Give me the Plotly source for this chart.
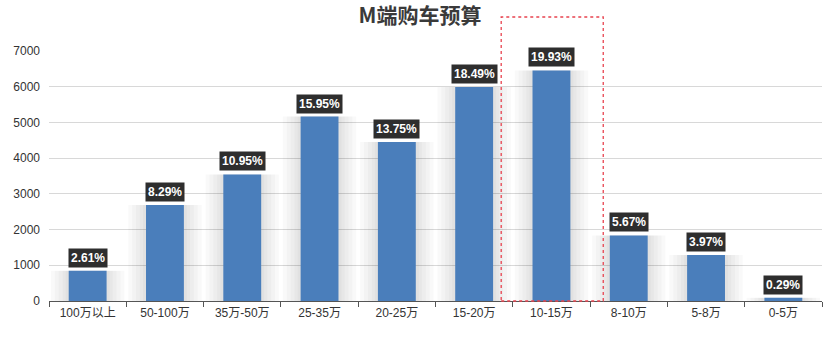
import plotly.graph_objects as go

categories = ["100万以上", "50-100万", "35万-50万", "25-35万", "20-25万",
              "15-20万", "10-15万", "8-10万", "5-8万", "0-5万"]
values = [845, 2690, 3545, 5165, 4450, 5990, 6455, 1835, 1285, 94]
pct_labels = ["2.61%", "8.29%", "10.95%", "15.95%", "13.75%",
              "18.49%", "19.93%", "5.67%", "3.97%", "0.29%"]
y_ticks = [0, 1000, 2000, 3000, 4000, 5000, 6000, 7000]
highlight = "10-15万"

fig = go.Figure()

# soft side shadows
for k, w in enumerate([0.95, 0.85, 0.75, 0.65, 0.57]):
    fig.add_trace(go.Bar(x=categories, y=values, width=w,
                         marker=dict(color="rgba(0,0,0,0.022)", line=dict(width=0)),
                         hoverinfo="skip", showlegend=False))

fig.add_trace(go.Bar(x=categories, y=values, width=0.49,
                     marker=dict(color="#4a7ebb", line=dict(width=0)),
                     showlegend=False))

for c, v, t in zip(categories, values, pct_labels):
    fig.add_annotation(x=c, y=v, text="<b>" + t + "</b>", showarrow=False,
                       yanchor="bottom", yshift=3, bgcolor="#2e2e2e",
                       borderpad=2, font=dict(color="white", size=12, family="Arial"))

hi = categories.index(highlight)
fig.add_shape(type="rect", xref="x", yref="paper", x0=hi - 0.65, x1=hi + 0.67,
              y0=0, y1=1.136, line=dict(color="#e8434f", width=1.3, dash="3px,3px"),
              layer="above")

fig.update_layout(
    width=840, height=343,
    margin=dict(l=49, r=18, t=51, b=42),
    paper_bgcolor="white", plot_bgcolor="white",
    barmode="overlay",
    title=dict(text="<b>M端购车预算</b>", x=0.5, xanchor="center", y=0.975, yanchor="top",
               font=dict(size=21, color="#3a3a3a", family="Noto Sans CJK SC")),
    font=dict(family="Arial, Noto Sans CJK SC", size=12, color="#333"),
    xaxis=dict(showline=True, linecolor="#555", linewidth=1.2, ticks="outside",
               tickson="boundaries", ticklen=5, tickcolor="#555", showgrid=False,
               tickfont=dict(size=12, color="#333")),
    yaxis=dict(range=[0, 7000], tickvals=y_ticks, showgrid=True, gridcolor="#d8d8d8",
               zeroline=False, tickfont=dict(size=12, color="#333"), ticklabelstandoff=8),
)

fig.write_html("out.html")
